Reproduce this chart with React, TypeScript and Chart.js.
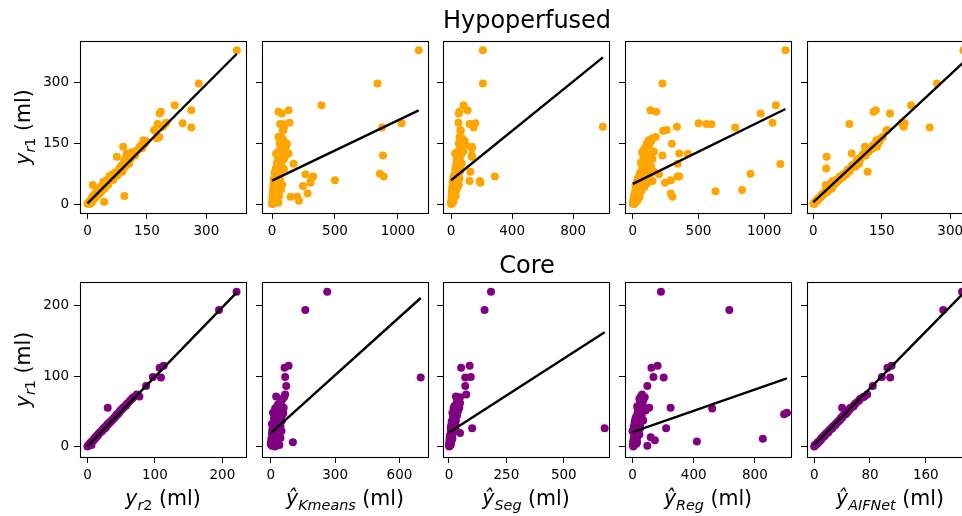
import React, { useEffect, useRef } from 'react';
import { Chart, registerables } from 'chart.js';

Chart.register(...registerables);

const FONT = "'DejaVu Sans', sans-serif";
const ORANGE = '#FFA500';
const PURPLE = '#800080';

// ---------------- Hypoperfused (row 1) ----------------
const hypoY = [380, 298, 244, 232, 228, 224, 201, 200, 198, 197, 189, 191, 183, 181, 166, 163, 158, 155, 149, 142, 142, 138, 125, 124, 120, 117, 115, 112, 108, 105, 100, 99, 95, 92, 88, 85, 82, 80, 78, 75, 74, 72, 70, 68, 68, 65, 62, 60, 59, 57, 57, 55, 53, 52, 50, 48, 47, 45, 44, 42, 40, 38, 35, 35, 32, 30, 28, 26, 25, 22, 20, 18, 18, 16, 14, 12, 10, 8, 6, 5, 4, 3, 2, 1, 0,
  150, 145, 135, 130, 128, 122, 110, 102, 96, 90, 86, 77, 73, 66, 63, 58, 54, 51, 46, 43, 39, 36, 33, 29, 24, 21, 17, 13, 9, 7];
const hypoR2 = [377, 281, 220, 262, 185, 182, 199, 240, 177, 195, 262, 190, 168, 170, 181, 175, 141, 148, 145, 132, 90, 138, 99, 115, 120, 74, 110, 95, 100, 92, 105, 93, 85, 95, 80, 80, 78, 88, 70, 66, 72, 60, 75, 62, 55, 58, 62, 65, 50, 45, 55, 40, 52, 48, 42, 52, 13, 40, 35, 38, 30, 42, 30, 25, 35, 28, 22, 30, 18, 25, 93, 20, 12, 15, 18, 10, 8, 12, 42, 5, 3, 10, 2, 0, 4,
  140, 135, 128, 120, 112, 118, 108, 98, 90, 86, 84, 75, 68, 64, 58, 60, 50, 45, 44, 45, 36, 38, 30, 32, 22, 24, 14, 15, 10, 6];
const hypoKmeans = [1166, 839, 393, 131, 51, 78, 139, 1030, 64, 90, 874, 95, 91, 85, 51, 80, 91, 70, 118, 78, 110, 95, 131, 32, 882, 60, 100, 70, 45, 55, 171, 60, 40, 80, 30, 50, 65, 35, 20, 858, 266, 25, 60, 888, 327, 40, 15, 30, 500, 306, 20, 50, 306, 25, 12, 35, 80, 246, 60, 10, 28, 45, 15, 70, 8, 40, 20, 282, 5, 30, 55, 147, 200, 10, 25, 3, 18, 214, 40, 5, 51, 2, 12, 0, 8,
  60, 85, 65, 100, 45, 75, 90, 40, 70, 55, 95, 45, 30, 50, 20, 65, 40, 55, 18, 35, 50, 20, 10, 45, 15, 35, 8, 20, 5, 30];
const hypoSeg = [208, 208, 82, 108, 55, 50, 48, 159, 121, 140, 148, 995, 60, 64, 55, 70, 82, 90, 75, 64, 136, 136, 27, 30, 136, 136, 45, 38, 50, 60, 70, 40, 32, 55, 28, 45, 60, 126, 35, 40, 50, 20, 30, 287, 25, 15, 22, 35, 30, 121, 188, 10, 192, 40, 18, 50, 28, 12, 45, 8, 30, 22, 15, 35, 5, 20, 10, 18, 25, 5, 30, 8, 12, 20, 3, 6, 10, 4, 15, 2, 8, 1, 0, 3, 2,
  50, 95, 58, 80, 40, 65, 55, 35, 48, 38, 62, 26, 45, 35, 55, 25, 42, 18, 30, 20, 10, 28, 12, 18, 8, 14, 5, 10, 3, 6];
const hypoReg = [1163, 225, 1090, 134, 178, 974, 1064, 501, 560, 599, 780, 336, 258, 230, 173, 150, 120, 140, 297, 110, 100, 90, 354, 419, 225, 95, 80, 150, 120, 100, 341, 1124, 90, 140, 130, 70, 110, 160, 60, 896, 200, 50, 80, 341, 354, 40, 70, 90, 289, 150, 60, 30, 245, 110, 45, 20, 80, 70, 55, 25, 40, 60, 30, 832, 630, 50, 15, 289, 35, 20, 40, 302, 10, 25, 15, 5, 18, 8, 12, 3, 22, 6, 2, 0, 10,
  105, 125, 85, 160, 70, 115, 130, 60, 95, 75, 105, 55, 130, 65, 45, 100, 85, 35, 50, 90, 75, 20, 45, 60, 30, 10, 50, 20, 35, 15];
const hypoAIFNet = [329, 271, 214, 137, 132, 168, 194, 200, 79, 196, 255, 198, 162, 160, 152, 148, 138, 145, 140, 113, 139, 130, 84, 110, 115, 29, 105, 100, 95, 98, 100, 90, 88, 92, 28, 75, 80, 119, 72, 70, 65, 68, 62, 60, 58, 64, 55, 52, 48, 50, 42, 45, 50, 45, 38, 42, 27, 40, 36, 35, 32, 40, 28, 30, 30, 25, 24, 22, 20, 18, 17, 15, 16, 14, 10, 12, 8, 6, 5, 4, 3, 2, 1, 0, 2,
  142, 130, 125, 122, 118, 108, 102, 95, 85, 82, 80, 74, 72, 62, 58, 55, 48, 46, 44, 40, 38, 34, 32, 30, 22, 20, 15, 12, 9, 7];

// ---------------- Core (row 2) ----------------
const coreY = [220, 194, 115, 112, 99, 98, 86, 74, 71, 68, 65, 62, 58, 55, 55, 54, 52, 50, 48, 46, 45, 42, 40, 38, 36, 34, 32, 30, 28, 26, 26, 24, 22, 20, 19, 18, 16, 14, 13, 12, 11, 9, 8, 7, 6, 5, 4, 3, 2, 1, 0, 2,
  70, 60, 57, 51, 47, 44, 41, 37, 33, 31, 29, 27, 25, 23, 21, 17, 15, 10, 6, 3];
const coreR2 = [221, 195, 113, 107, 97, 109, 87, 73, 77, 66, 63, 60, 57, 30, 53, 52, 50, 48, 47, 45, 43, 41, 39, 37, 35, 33, 30, 29, 27, 26, 24, 23, 22, 19, 18, 17, 15, 14, 12, 12, 10, 9, 8, 7, 6, 5, 4, 3, 2, 1, 0, 6,
  68, 58, 55, 49, 45, 43, 40, 36, 32, 30, 28, 27, 24, 22, 20, 16, 14, 10, 5, 3];
const coreKmeans = [263, 161, 83, 64, 67, 699, 72, 67, 25, 55, 50, 45, 30, 40, 60, 20, 35, 55, 10, 45, 25, 50, 15, 30, 45, 20, 5, 35, 10, 40, 25, 8, 50, 15, 30, 5, 20, 35, 10, 45, 3, 25, 15, 2, 103, 30, 8, 0, 12, 5, 20, 40,
  62, 35, 48, 28, 58, 40, 22, 52, 38, 12, 45, 18, 30, 8, 38, 25, 12, 20, 4, 15];
const coreSeg = [183, 155, 90, 53, 95, 71, 71, 75, 30, 40, 35, 48, 25, 45, 20, 30, 28, 38, 15, 22, 30, 18, 25, 20, 12, 22, 28, 10, 15, 101, 678, 20, 8, 18, 48, 10, 5, 12, 3, 8, 15, 6, 2, 10, 4, 2, 5, 1, 0, 3, 1, 8,
  48, 42, 32, 40, 22, 35, 18, 30, 15, 25, 20, 8, 14, 30, 10, 6, 12, 4, 8, 2];
const coreReg = [186, 633, 164, 124, 137, 204, 97, 63, 55, 45, 70, 50, 40, 109, 249, 521, 35, 60, 1009, 991, 30, 45, 25, 55, 15, 40, 20, 30, 10, 220, 50, 25, 0, 35, 15, 40, 20, 10, 119, 30, 852, 146, 5, 421, 15, 8, 25, 3, 10, 97, 5, 2,
  80, 65, 30, 85, 42, 60, 20, 70, 35, 12, 50, 25, 38, 18, 8, 45, 28, 15, 30, 12];
const coreAIFNet = [212, 185, 111, 105, 97, 109, 84, 76, 72, 66, 64, 60, 57, 40, 52, 52, 50, 48, 47, 45, 43, 40, 38, 37, 35, 33, 31, 30, 27, 26, 25, 23, 21, 20, 18, 17, 15, 14, 12, 11, 10, 9, 8, 7, 6, 5, 4, 3, 2, 1, 0, 1,
  70, 58, 56, 49, 46, 42, 40, 36, 32, 30, 28, 26, 24, 22, 20, 16, 14, 10, 5, 3];

// Regression lines: [intercept, slope]
const hypoFits = [[2, 0.98], [58, 0.149], [59, 0.305], [50, 0.159], [5, 1.05]];
const coreFits = [[0, 0.99], [19, 0.275], [20, 0.21], [20.4, 0.0759], [2, 1.01]];

// Axis ranges and ticks
const hypoYRange = [-22, 403];
const coreYRange = [-15, 234];
const hypoYTicks = [0, 150, 300];
const coreYTicks = [0, 100, 200];
const hypoXRanges = [[-19, 400], [-80, 1240], [-53, 1035], [-60, 1205], [-14, 350]];
const coreXRanges = [[-11, 235], [-41, 733], [-26, 697], [-49, 1036], [-10.3, 227.7]];
const hypoXTicks = [[0, 150, 300], [0, 500, 1000], [0, 400, 800], [0, 500, 1000], [0, 150, 300]];
const coreXTicks = [[0, 100, 200], [0, 300, 600], [0, 250, 500], [0, 400, 800], [0, 80, 160]];

const rowTitles = ['Hypoperfused', 'Core'];

type Part = { t: string; italic?: boolean; sub?: boolean };
const yAxisLabel: Part[] = [{ t: 'y', italic: true }, { t: 'r', italic: true, sub: true }, { t: '1', sub: true }, { t: ' (ml)' }];
const xAxisLabels: Part[][] = [
  [{ t: 'y', italic: true }, { t: 'r', italic: true, sub: true }, { t: '2', sub: true }, { t: ' (ml)' }],
  [{ t: 'ŷ', italic: true }, { t: 'Kmeans', italic: true, sub: true }, { t: ' (ml)' }],
  [{ t: 'ŷ', italic: true }, { t: 'Seg', italic: true, sub: true }, { t: ' (ml)' }],
  [{ t: 'ŷ', italic: true }, { t: 'Reg', italic: true, sub: true }, { t: ' (ml)' }],
  [{ t: 'ŷ', italic: true }, { t: 'AIFNet', italic: true, sub: true }, { t: ' (ml)' }],
];

// Layout (pixels)
const CW = 980;
const CH = 516;
const COL_LEFT = [80, 262, 443, 625, 807];
const COL_W = 166;
const ROW_TOP = [41, 282];
const ROW_H = [172, 175];
const TICK_FONT = 13.5;
const LABEL_FONT = 20.5;
const TITLE_FONT = 24;

function drawMath(ctx: CanvasRenderingContext2D, parts: Part[], x: number, y: number, size: number, rotate: boolean) {
  const subScale = 0.7;
  const subDrop = 0.22 * size;
  const fontFor = (p: Part) => `${p.italic ? 'italic ' : ''}${p.sub ? size * subScale : size}px ${FONT}`;
  const widths = parts.map((p) => {
    ctx.font = fontFor(p);
    return ctx.measureText(p.t).width;
  });
  const total = widths.reduce((a, b) => a + b, 0);
  ctx.save();
  ctx.translate(x, y);
  if (rotate) ctx.rotate(-Math.PI / 2);
  ctx.fillStyle = '#000';
  ctx.textAlign = 'left';
  ctx.textBaseline = 'alphabetic';
  let cx = -total / 2;
  parts.forEach((p, i) => {
    ctx.font = fontFor(p);
    ctx.fillText(p.t, cx, p.sub ? subDrop : 0);
    cx += widths[i];
  });
  ctx.restore();
}

const decoPlugin = {
  id: 'deco',
  afterDraw(chart: any, _args: any, opts: any) {
    const ctx: CanvasRenderingContext2D = chart.ctx;
    const a = chart.chartArea;
    ctx.save();
    ctx.strokeStyle = '#000';
    ctx.lineWidth = 1.1;
    ctx.strokeRect(Math.round(a.left) + 0.5, Math.round(a.top) + 0.5, Math.round(a.right - a.left), Math.round(a.bottom - a.top));
    if (opts.title) {
      ctx.fillStyle = '#000';
      ctx.font = `${TITLE_FONT}px ${FONT}`;
      ctx.textAlign = 'center';
      ctx.textBaseline = 'alphabetic';
      ctx.fillText(opts.title, opts.titleX, opts.titleY);
    }
    if (opts.yLabel) drawMath(ctx, opts.yLabel, opts.yLabelX, opts.yLabelY, LABEL_FONT, true);
    if (opts.xLabel) drawMath(ctx, opts.xLabel, opts.xLabelX, opts.xLabelY, LABEL_FONT, false);
    ctx.restore();
  },
};

type PanelCfg = {
  row: number;
  col: number;
  xs: number[];
  ys: number[];
  fit: number[];
  xRange: number[];
  xTicks: number[];
  yRange: number[];
  yTicks: number[];
  color: string;
};

const hypoXs = [hypoR2, hypoKmeans, hypoSeg, hypoReg, hypoAIFNet];
const coreXs = [coreR2, coreKmeans, coreSeg, coreReg, coreAIFNet];

const panels: PanelCfg[] = [];
for (let c = 0; c < 5; c++) {
  panels.push({ row: 0, col: c, xs: hypoXs[c], ys: hypoY, fit: hypoFits[c], xRange: hypoXRanges[c], xTicks: hypoXTicks[c], yRange: hypoYRange, yTicks: hypoYTicks, color: ORANGE });
}
for (let c = 0; c < 5; c++) {
  panels.push({ row: 1, col: c, xs: coreXs[c], ys: coreY, fit: coreFits[c], xRange: coreXRanges[c], xTicks: coreXTicks[c], yRange: coreYRange, yTicks: coreYTicks, color: PURPLE });
}

function Panel({ cfg }: { cfg: PanelCfg }) {
  const ref = useRef<HTMLCanvasElement | null>(null);
  useEffect(() => {
    if (!ref.current) return;
    const L = COL_LEFT[cfg.col];
    const T = ROW_TOP[cfg.row];
    const W = COL_W;
    const H = ROW_H[cfg.row];
    const padL = cfg.col === 0 ? L : 12;
    const padB = 30;
    const pts = cfg.xs.map((x, i) => ({ x, y: cfg.ys[i] }));
    const xMin = Math.min(...cfg.xs);
    const xMax = Math.max(...cfg.xs);
    const [b0, b1] = cfg.fit;
    const line = [
      { x: xMin, y: b0 + b1 * xMin },
      { x: xMax, y: b0 + b1 * xMax },
    ];
    const deco: any = {};
    if (cfg.col === 2) {
      deco.title = rowTitles[cfg.row];
      deco.titleX = 527;
      deco.titleY = cfg.row === 0 ? 28 : 273;
    }
    if (cfg.col === 0) {
      deco.yLabel = yAxisLabel;
      deco.yLabelX = 30;
      deco.yLabelY = T + H / 2;
    }
    if (cfg.row === 1) {
      deco.xLabel = xAxisLabels[cfg.col];
      deco.xLabelX = L + W / 2;
      deco.xLabelY = 505;
    }
    const tickFont = { family: FONT, size: TICK_FONT };
    const chart = new Chart(ref.current, {
      type: 'scatter',
      data: {
        datasets: [
          {
            data: line,
            showLine: true,
            borderColor: '#000',
            borderWidth: 2.4,
            pointRadius: 0,
            order: 0,
          } as any,
          {
            data: pts,
            backgroundColor: cfg.color,
            borderWidth: 0,
            pointRadius: 4,
            order: 1,
          } as any,
        ],
      },
      plugins: [decoPlugin as any],
      options: {
        responsive: false,
        animation: false,
        events: [],
        layout: {
          padding: { left: L - padL, top: T, right: CW - (L + W), bottom: CH - (T + H) - padB },
        },
        plugins: {
          legend: { display: false },
          tooltip: { enabled: false },
          deco,
        } as any,
        scales: {
          x: {
            type: 'linear',
            min: cfg.xRange[0],
            max: cfg.xRange[1],
            border: { display: false },
            grid: { display: true, drawOnChartArea: false, drawTicks: true, tickLength: 6, color: '#000', lineWidth: 1 },
            ticks: { font: tickFont, color: '#000', padding: 4, maxRotation: 0, autoSkip: false, callback: (v: any) => String(v) },
            afterBuildTicks: (s: any) => {
              s.ticks = cfg.xTicks.map((v) => ({ value: v }));
            },
            afterFit: (s: any) => {
              s.height = padB;
            },
          },
          y: {
            type: 'linear',
            min: cfg.yRange[0],
            max: cfg.yRange[1],
            border: { display: false },
            grid: { display: true, drawOnChartArea: false, drawTicks: true, tickLength: 6, color: '#000', lineWidth: 1 },
            ticks: { display: cfg.col === 0, font: tickFont, color: '#000', padding: 5, autoSkip: false, callback: (v: any) => String(v) },
            afterBuildTicks: (s: any) => {
              s.ticks = cfg.yTicks.map((v) => ({ value: v }));
            },
            afterFit: (s: any) => {
              s.width = padL;
            },
          },
        } as any,
      },
    });
    return () => chart.destroy();
  }, [cfg]);
  return (
    <canvas
      ref={ref}
      width={CW}
      height={CH}
      style={{ position: 'absolute', left: 0, top: 0, width: CW, height: CH }}
    />
  );
}

export default function App() {
  return (
    <div style={{ position: 'fixed', left: 0, top: 0, width: 962, height: 516, overflow: 'hidden', background: '#fff' }}>
      {panels.map((p, i) => (
        <Panel key={i} cfg={p} />
      ))}
    </div>
  );
}
